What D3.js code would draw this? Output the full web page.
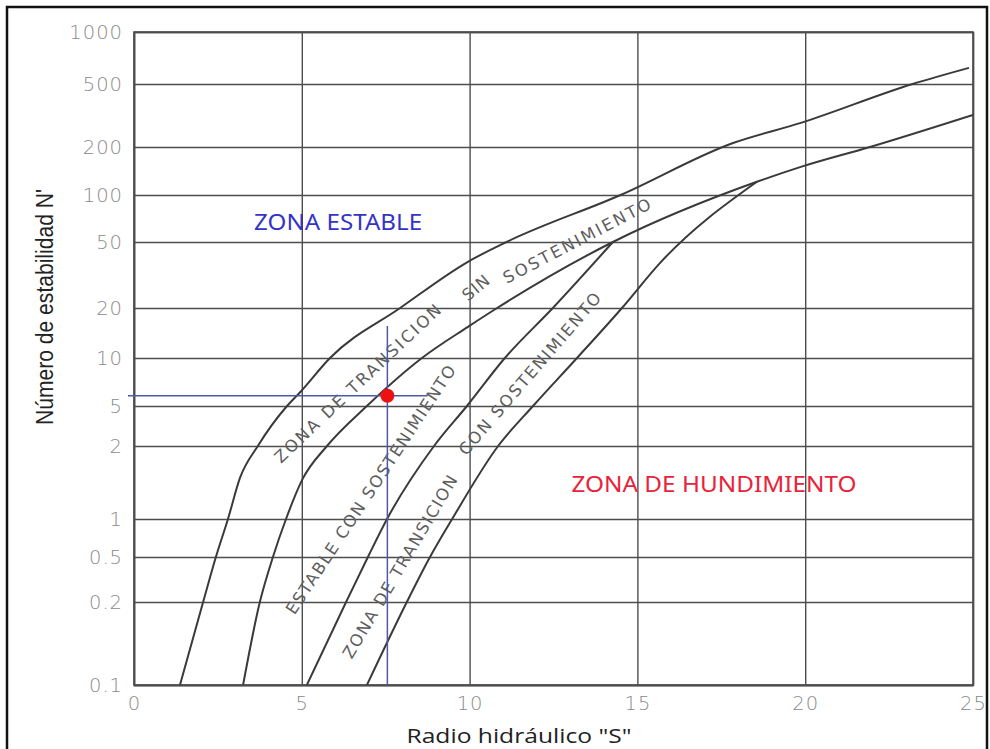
<!DOCTYPE html>
<html><head><meta charset="utf-8">
<script src="https://cdn.jsdelivr.net/npm/d3@7/dist/d3.min.js"></script>
<style>
html,body{margin:0;padding:0;background:#fff;}
svg{display:block;}
</style></head><body>
<svg id="chart" width="990" height="749"></svg>
<script>
// ================= DATA =================
const xTicks = [0, 5, 10, 15, 20, 25];
const xTickLabels = ["0", "5", "10", "15", "20", "25"];
const yTicks = [0.1, 0.2, 0.5, 1, 2, 5, 10, 20, 50, 100, 200, 500, 1000];
const yTickLabels = ["0.1", "0.2", "0.5", "1", "2", "5", "10", "20", "50", "100", "200", "500", "1000"];

// Boundary curves, points as [S (radio hidráulico), N' (número de estabilidad)]
const curveStableLimit = [[1.37,0.1],[2.06,0.2],[2.44,0.5],[2.8,1],[3.16,1.48],[3.69,2],[4.56,5],[4.95,6.1],[5.84,10],[7.93,20],[9.95,38],[11.1,50],[14.5,100],[17.85,212],[19.87,284],[23.2,500],[24.88,620]];
const curveNoSupportLimit = [[3.25,0.1],[3.75,0.2],[4.14,0.5],[4.53,1],[5.01,1.45],[5.75,2],[6.94,5],[8.58,10],[9.95,15.4],[10.82,20],[14.27,50],[18.56,121],[19.87,150],[21.93,200],[25,319]];
const curveSupportLimit = [[5.15,0.1],[6.32,0.2],[6.97,0.5],[7.54,1],[8.94,2],[9.92,5],[11.05,10],[12.48,20],[14.27,50]];
const curveCavingLimit = [[6.94,0.1],[8.13,0.2],[8.82,0.5],[9.48,1],[10.85,2],[11.89,5],[13.2,10],[14.54,20],[15.67,37.3],[18.56,121]];

// Case point and its reading lines
const caseS = 7.55, caseN = 5.8;
const guideH = [[-0.18, 5.8], [8.75, 5.8]];
const guideV = [[7.55, 0.1], [7.55, 15.6]];

// Zone labels: text and anchor in data units
const zoneLabels = [
  {id:"stable",  text:"ZONA ESTABLE",                S:6.08,  N:67},
  {id:"caving",  text:"ZONA DE HUNDIMIENTO",         S:17.28, N:1.39},
  {id:"trans1",  text:"ZONA  DE  TRANSICION",        S:6.67,  N:6.9},
  {id:"sin",     text:"SIN",                         S:10.19, N:26.4},
  {id:"sost1",   text:"SOSTENIMIENTO",               S:13.2,  N:50.7},
  {id:"estable", text:"ESTABLE  CON  SOSTENIMIENTO", S:7.06,  N:1.32},
  {id:"trans2",  text:"ZONA  DE  TRANSICION",        S:7.93,  N:0.408},
  {id:"con",     text:"CON   SOSTENIMIENTO",         S:11.8,  N:7.94}
];

// ================= LAYOUT / STYLE =================
const W = 990, H = 749;
const P = {left:134, right:973, top:32, bottom:685};
// the reference's hand-drawn logarithmic axis has non-uniform spacing:
// pixel offset (from plot top) of each y tick, same order as yTicks
const yTickOffsets = [653, 570, 525, 487, 414, 374, 326, 276, 210, 163, 115, 52, 0];

const zoneFont = "'DejaVu Sans', sans-serif";
const labelStyle = {
  stable:  {angle:0,     size:21, len:168, color:"#3434c6", font:"'Noto Sans', sans-serif", adj:"spacingAndGlyphs"},
  caving:  {angle:0,     size:21, len:285, color:"#e8233a", font:"'Noto Sans', sans-serif", adj:"spacingAndGlyphs"},
  trans1:  {angle:-43.4, size:16.5, len:222, color:"#5e5e5e", font:zoneFont, adj:"spacing"},
  sin:     {angle:-40,   size:16.5, len:30,  color:"#5e5e5e", font:zoneFont, adj:"spacing"},
  sost1:   {angle:-27.6, size:16.5, len:164, color:"#5e5e5e", font:zoneFont, adj:"spacing"},
  estable: {angle:-56.6, size:16.5, len:294, color:"#5e5e5e", font:zoneFont, adj:"spacing"},
  trans2:  {angle:-59.5, size:16.5, len:209, color:"#5e5e5e", font:zoneFont, adj:"spacing"},
  con:     {angle:-49.3, size:16.5, len:208, color:"#5e5e5e", font:zoneFont, adj:"spacing"}
};

// ================= CHART =================
const svg = d3.select("#chart");
svg.append("rect").attr("width", W).attr("height", H).attr("fill", "#fff");

// outer picture frame
svg.append("rect").attr("x", 7).attr("y", 7).attr("width", 980).attr("height", 780)
  .attr("fill", "none").attr("stroke", "#111").attr("stroke-width", 2.5);

const x = d3.scaleLinear().domain([0, 25]).range([P.left, P.right]);
const yL = d3.scaleLinear().domain(yTicks.map(Math.log10)).range(yTickOffsets.map(o => P.top + o));
const y = v => yL(Math.log10(v));

const gridColor = "#4d4d4d";
const tickFont = "'DejaVu Sans', sans-serif";

// x axis with vertical gridlines
const gx = svg.append("g").attr("transform", `translate(0,${P.bottom})`)
  .call(d3.axisBottom(x).tickValues(xTicks)
    .tickFormat((d, i) => xTickLabels[i])
    .tickSize(-(P.bottom - P.top)).tickPadding(11));
// y axis with horizontal gridlines
const gy = svg.append("g").attr("transform", `translate(${P.left},0)`)
  .call(d3.axisLeft(yL).tickValues(yTicks.map(Math.log10))
    .tickFormat((d, i) => yTickLabels[i])
    .tickSize(-(P.right - P.left)).tickPadding(11));

[gx, gy].forEach(g => {
  g.select(".domain").attr("stroke", gridColor).attr("stroke-width", 1.4);
  g.selectAll(".tick line").attr("stroke", gridColor).attr("stroke-width", 1.4);
  g.selectAll(".tick text").attr("fill", "#8a8a8a").attr("font-family", tickFont)
    .attr("font-size", 19.5).attr("font-weight", 300).attr("letter-spacing", "1px");
});
// plot frame
svg.append("rect").attr("x", P.left).attr("y", P.top)
  .attr("width", P.right - P.left).attr("height", P.bottom - P.top)
  .attr("fill", "none").attr("stroke", gridColor).attr("stroke-width", 1.6);

// clip
svg.append("clipPath").attr("id", "plotClip").append("rect")
  .attr("x", P.left).attr("y", P.top).attr("width", P.right - P.left).attr("height", P.bottom - P.top);

const line = d3.line().x(d => x(d[0])).y(d => y(d[1])).curve(d3.curveMonotoneX);
const curves = svg.append("g").attr("clip-path", "url(#plotClip)");
[curveStableLimit, curveNoSupportLimit, curveSupportLimit, curveCavingLimit].forEach(c => {
  curves.append("path").attr("d", line(c)).attr("fill", "none")
    .attr("stroke", "#3a3a3a").attr("stroke-width", 2).attr("stroke-linejoin", "round");
});

// zone labels
const lbl = svg.append("g");
zoneLabels.forEach(l => {
  const s = labelStyle[l.id];
  lbl.append("text")
    .attr("transform", `translate(${x(l.S)},${y(l.N)}) rotate(${s.angle})`)
    .attr("text-anchor", "middle").attr("dominant-baseline", "central")
    .attr("font-family", s.font).attr("font-size", s.size)
    .attr("fill", s.color)
    .attr("textLength", s.len).attr("lengthAdjust", s.adj)
    .text(l.text);
});

// reading lines and case point
const guide = d3.line().x(d => x(d[0])).y(d => y(d[1]));
svg.append("path").attr("d", guide(guideH)).attr("stroke", "#4b5aa6").attr("stroke-width", 1.5).attr("fill", "none");
svg.append("path").attr("d", guide(guideV)).attr("stroke", "#4b5aa6").attr("stroke-width", 1.5).attr("fill", "none");
svg.append("circle").attr("cx", x(caseS)).attr("cy", y(caseN)).attr("r", 7).attr("fill", "#ee1111");

// axis titles
svg.append("text")
  .attr("transform", `translate(53,307) rotate(-90)`)
  .attr("text-anchor", "middle")
  .attr("font-family", "'Liberation Sans Narrow', 'Liberation Sans', sans-serif")
  .attr("font-size", 23).attr("fill", "#222")
  .attr("textLength", 236).attr("lengthAdjust", "spacingAndGlyphs")
  .text("Número de estabilidad N'");
svg.append("text")
  .attr("x", 519).attr("y", 743)
  .attr("text-anchor", "middle")
  .attr("font-family", "'Open Sans', sans-serif")
  .attr("font-size", 20.5).attr("fill", "#222")
  .attr("textLength", 225).attr("lengthAdjust", "spacingAndGlyphs")
  .text("Radio hidráulico \"S\"");
</script>
</body></html>
